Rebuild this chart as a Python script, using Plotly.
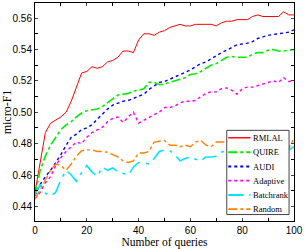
import plotly.graph_objects as go

queries = list(range(0, 101, 2))

rmlal = [0.449, 0.468, 0.487, 0.493, 0.495, 0.497, 0.500, 0.507, 0.516, 0.525,
         0.526, 0.529, 0.528, 0.529, 0.532, 0.533, 0.535, 0.539, 0.539, 0.538,
         0.546, 0.550, 0.550, 0.549, 0.551, 0.552, 0.554, 0.555, 0.556, 0.555,
         0.555, 0.556, 0.556, 0.556, 0.556, 0.555, 0.557, 0.558, 0.558, 0.559,
         0.559, 0.559, 0.561, 0.562, 0.561, 0.561, 0.561, 0.561, 0.564, 0.562,
         0.562]

quire = [0.447, 0.463, 0.472, 0.479, 0.484, 0.489, 0.492, 0.494, 0.497, 0.4995,
         0.501, 0.5015, 0.502, 0.5035, 0.506, 0.509, 0.511, 0.5115, 0.512, 0.5135,
         0.514, 0.515, 0.519, 0.519, 0.5175, 0.518, 0.519, 0.520, 0.521, 0.522,
         0.524, 0.5245, 0.526, 0.528, 0.530, 0.531, 0.533, 0.535, 0.5355, 0.535,
         0.535, 0.535, 0.537, 0.538, 0.538, 0.5395, 0.540, 0.539, 0.539, 0.5395,
         0.540]

audi = [0.447, 0.454, 0.459, 0.463, 0.468, 0.473, 0.479, 0.484, 0.486, 0.489,
        0.490, 0.492, 0.4955, 0.499, 0.502, 0.5045, 0.506, 0.507, 0.5075, 0.509,
        0.510, 0.5115, 0.5145, 0.517, 0.519, 0.5195, 0.521, 0.522, 0.524, 0.525,
        0.527, 0.529, 0.531, 0.532, 0.534, 0.5365, 0.538, 0.5395, 0.541, 0.543,
        0.5435, 0.544, 0.545, 0.547, 0.548, 0.549, 0.5495, 0.550, 0.5505, 0.551,
        0.5525]

adaptive = [0.445, 0.449, 0.455, 0.459, 0.466, 0.471, 0.475, 0.478, 0.481, 0.480,
            0.484, 0.487, 0.489, 0.4905, 0.494, 0.496, 0.497, 0.4935, 0.497, 0.500,
            0.493, 0.495, 0.4965, 0.4985, 0.500, 0.503, 0.503, 0.504, 0.506, 0.507,
            0.507, 0.5075, 0.510, 0.512, 0.513, 0.513, 0.515, 0.5155, 0.514, 0.5115,
            0.515, 0.516, 0.516, 0.517, 0.518, 0.519, 0.520, 0.519, 0.522, 0.5195,
            0.5205]

batchrank = [0.4475, 0.454, 0.4485, 0.4466, 0.449, 0.457, 0.463, 0.460, 0.456, 0.4615,
             0.466, 0.462, 0.459, 0.465, 0.463, 0.4645, 0.462, 0.461, 0.460, 0.465,
             0.468, 0.468, 0.467, 0.4705, 0.475, 0.476, 0.4755, 0.473, 0.469, 0.4705,
             0.4715, 0.470, 0.469, 0.4715, 0.4715, 0.472, 0.4745, 0.476, 0.476, 0.475,
             0.476, 0.477, 0.476, 0.475, 0.476, 0.477, 0.476, 0.475, 0.476, 0.476,
             0.478]

random_ = [0.4445, 0.451, 0.457, 0.463, 0.467, 0.466, 0.463, 0.467, 0.472, 0.4755,
           0.476, 0.476, 0.475, 0.475, 0.4745, 0.473, 0.4715, 0.469, 0.468, 0.469,
           0.474, 0.474, 0.475, 0.481, 0.4815, 0.482, 0.479, 0.479, 0.478, 0.479,
           0.478, 0.481, 0.482, 0.479, 0.478, 0.481, 0.481, 0.481, 0.480, 0.481,
           0.480, 0.479, 0.480, 0.481, 0.480, 0.479, 0.480, 0.481, 0.480, 0.477,
           0.4835]

names = ["RMLAL", "QUIRE", "AUDI", "Adaptive", "Batchrank", "Random"]
series = [rmlal, quire, audi, adaptive, batchrank, random_]
colors = ["#ff0000", "#00ee00", "#0000ff", "#ff00ff", "#00e5ff", "#ff8000"]
dashes = ["solid", "dashdot", "dot", "dot", "longdashdot", "dashdot"]
widths = [1.0, 1.6, 1.4, 1.4, 1.6, 1.4]

SERIF = "Liberation Serif, Times New Roman, Times, serif"
SANS = "Liberation Sans, Arial, Helvetica, sans-serif"

fig = go.Figure()
for n, s, c, d, w in zip(names, series, colors, dashes, widths):
    fig.add_trace(go.Scatter(x=queries, y=s, mode="lines", name=n,
                             line=dict(color=c, dash=d, width=w), showlegend=False))

# hand-built legend box (compact, MATLAB style)
W, H, L, T, R, B = 305, 249, 35, 2, 8, 27
pw, ph = W - L - R, H - T - B
def px_x(p):
    return (p - L) / pw
def px_y(p):
    return (H - B - p) / ph

shapes = [dict(type="rect", xref="paper", yref="paper",
               x0=px_x(229), x1=px_x(292), y0=px_y(215.5), y1=px_y(130.5),
               fillcolor="white", line=dict(color="#444", width=1), layer="above")]
annotations = []
row_y = [138, 152.5, 167, 181.3, 195.8, 210]
for n, c, d, w, ry in zip(names, colors, dashes, widths, row_y):
    shapes.append(dict(type="line", xref="paper", yref="paper",
                       x0=px_x(230.5), x1=px_x(253), y0=px_y(ry), y1=px_y(ry),
                       line=dict(color=c, dash=d, width=w + 0.4), layer="above"))
    annotations.append(dict(text=n, xref="paper", yref="paper", x=px_x(253), y=px_y(ry),
                            xanchor="left", yanchor="middle", showarrow=False,
                            font=dict(family=SERIF, size=8.5, color="black")))

fig.update_layout(
    width=W, height=H,
    margin=dict(l=L, r=R, t=T, b=B),
    paper_bgcolor="white", plot_bgcolor="white",
    font=dict(family=SANS, size=10, color="black"),
    showlegend=False,
    shapes=shapes, annotations=annotations,
)
fig.update_xaxes(range=[0, 100], dtick=20, tick0=0, ticks="inside", ticklen=3,
                 showline=True, linecolor="black", linewidth=1, mirror="allticks",
                 showgrid=False, zeroline=False, ticklabeloverflow="allow",
                 minor=dict(dtick=10, ticks="inside", ticklen=3, tickcolor="black"),
                 title=dict(text="Number of queries", font=dict(family=SERIF, size=11.5), standoff=3),
                 tickfont=dict(family=SANS, size=10))
fig.update_yaxes(range=[0.4307, 0.5696], dtick=0.02, tick0=0.44, ticks="inside", ticklen=3,
                 showline=True, linecolor="black", linewidth=1, mirror="allticks",
                 showgrid=False, zeroline=False, tickformat=".2f",
                 minor=dict(dtick=0.01, ticks="inside", ticklen=3, tickcolor="black"),
                 title=dict(text="micro-F1", font=dict(family=SERIF, size=12), standoff=0),
                 tickfont=dict(family=SANS, size=10))

fig.write_html("out.html", config={"displayModeBar": False},
               post_script="document.body.style.margin='0';document.body.style.padding='0';")
